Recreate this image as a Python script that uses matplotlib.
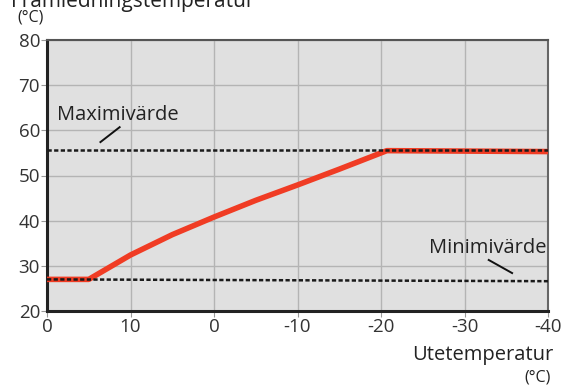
import numpy as np
import matplotlib.pyplot as plt

plt.rcParams['font.family'] = ['Open Sans', 'DejaVu Sans']

# Data
ute = [20, 15, 10, 5, 0, -5, -10, -15, -20.7, -40]
fram = [27, 27, 32.4, 36.9, 40.8, 44.5, 47.9, 51.4, 55.5, 55.3]
max_x = [20, -40]
max_y = [55.6, 55.6]
min_x = [20, -40]
min_y = [27.0, 26.6]
xticks = [20, 10, 0, -10, -20, -30, -40]
xlabels = ['0', '10', '0', '-10', '-20', '-30', '-40']
yticks = [20, 30, 40, 50, 60, 70, 80]

fig = plt.figure(figsize=(5.63, 3.85), dpi=100)
ax = fig.add_axes([47/563, 1 - 311/385, (548 - 47)/563, (311 - 40)/385])
ax.set_facecolor('#e0e0e0')

ax.plot(ute, fram, color='#f03c24', lw=4, solid_capstyle='butt', zorder=3)
ax.plot(max_x, max_y, color='#1a1a1a', lw=1.8, ls=(0, (1.7, 0.95)), zorder=4)
ax.plot(min_x, min_y, color='#1a1a1a', lw=1.8, ls=(0, (1.7, 0.95)), zorder=4)

ax.set_xlim(20, -40)
ax.set_ylim(20, 80)
ax.set_xticks(xticks)
ax.set_xticklabels(xlabels)
ax.set_yticks(yticks)
ax.grid(True, color='#b4b4b4', lw=1)
ax.set_axisbelow(True)
ax.tick_params(labelsize=13.5, colors='#999999', length=4, width=0.8, pad=1)
for lab in ax.get_xticklabels() + ax.get_yticklabels():
    lab.set_color('#333333')

ax.spines['left'].set_color('#222222')
ax.spines['left'].set_linewidth(2.2)
ax.spines['bottom'].set_color('#222222')
ax.spines['bottom'].set_linewidth(2.2)
ax.spines['top'].set_color('#555555')
ax.spines['top'].set_linewidth(1.5)
ax.spines['right'].set_color('#666666')
ax.spines['right'].set_linewidth(1.5)

# annotations
ax.text(18.8, 63.3, 'Maximivärde', fontsize=14.5, color='#222222', va='center', ha='left')
ax.plot([13.6, 11.3], [57.4, 60.7], color='#111111', lw=1.4)
ax.text(-25.7, 34.0, 'Minimivärde', fontsize=14.5, color='#222222', va='center', ha='left')
ax.plot([-32.9, -35.7], [31.3, 28.4], color='#111111', lw=1.4)

fig.text(11/563, 1 - 1/385, 'Framledningstemperatur', fontsize=15, color='#222222', va='center', ha='left')
fig.text(17/563, 1 - 18/385, '(°C)', fontsize=11.5, color='#222222', va='center', ha='left')
fig.text(553/563, 1 - 355/385, 'Utetemperatur', fontsize=14.5, color='#222222', va='center', ha='right')
fig.text(551/563, 1 - 377/385, '(°C)', fontsize=11.5, color='#222222', va='center', ha='right')

fig.savefig('out.png', dpi=100)
